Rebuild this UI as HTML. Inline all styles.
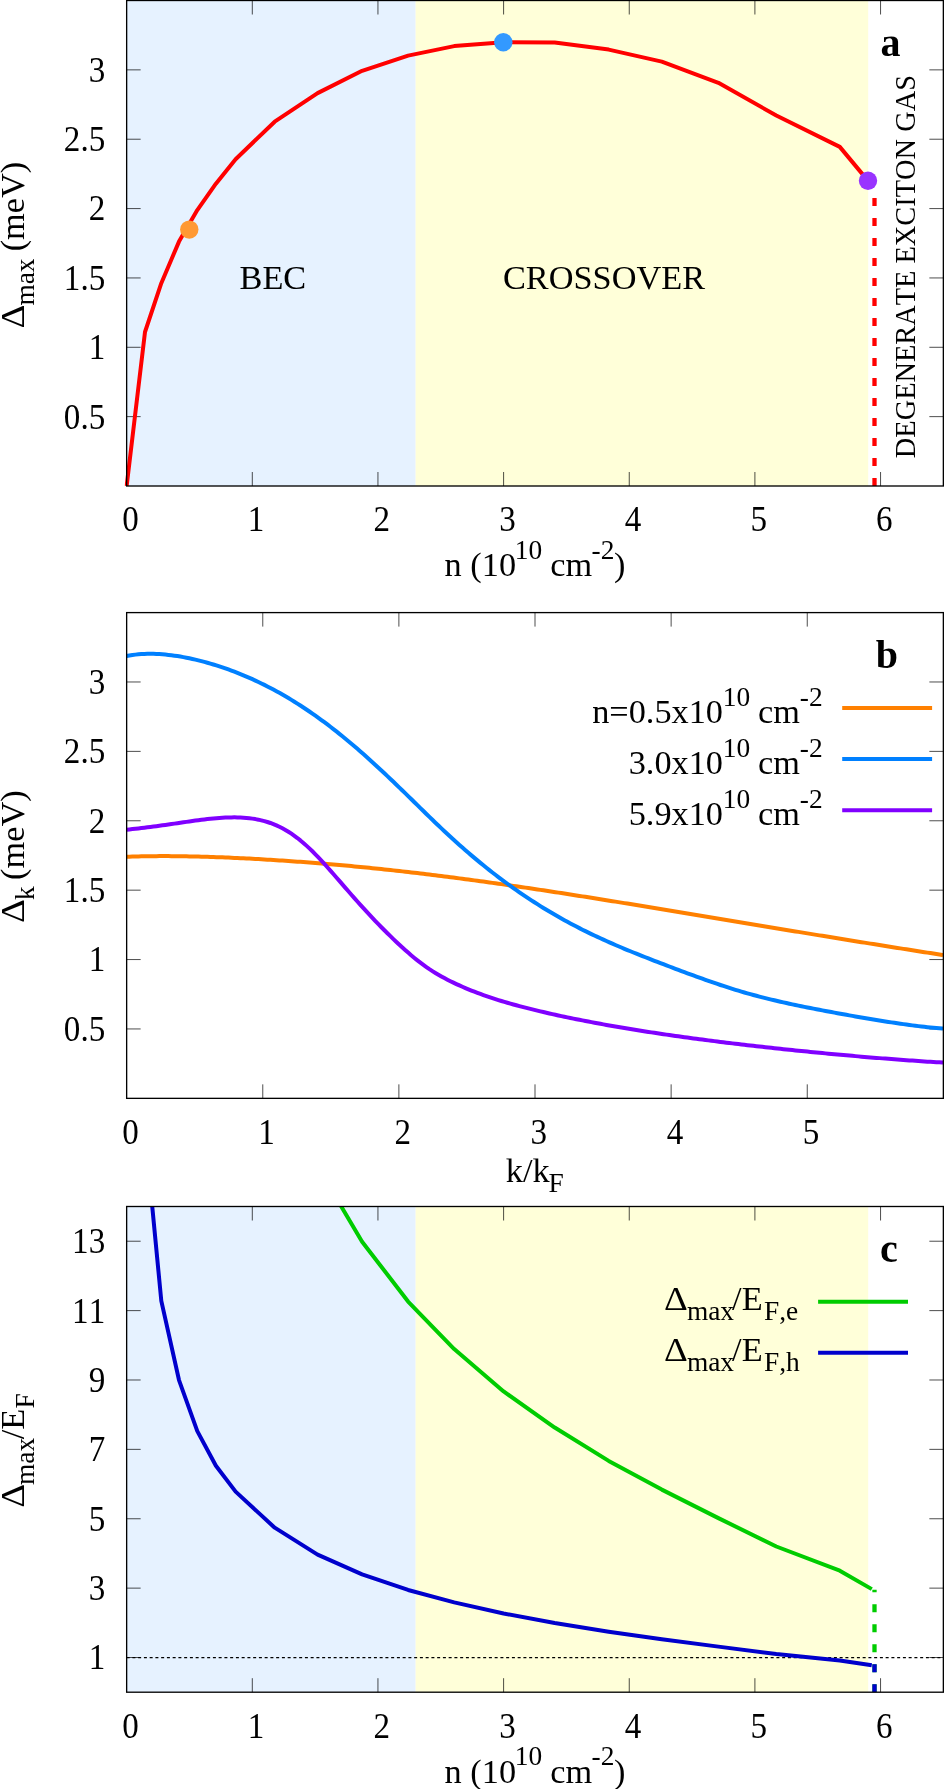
<!DOCTYPE html>
<html lang="en">
<head>
<meta charset="utf-8">
<title>Figure</title>
<style>
html,body{margin:0;padding:0;background:#fff;}
body{width:944px;height:1789px;overflow:hidden;}
svg{display:block;will-change:transform;}
text{font-family:"Liberation Serif", "DejaVu Serif", serif;font-kerning:none;}
</style>
</head>
<body>
<svg width="944" height="1789" viewBox="0 0 944 1789" font-family='"Liberation Serif", "DejaVu Serif", serif' fill="#000">
<rect width="944" height="1789" fill="#fff"/>
<defs>
<clipPath id="ca"><rect x="124.45" y="0.5" width="821.1" height="485.5"/></clipPath>
<clipPath id="cb"><rect x="124.45" y="612.6" width="821.1" height="485.75"/></clipPath>
<clipPath id="cc"><rect x="124.45" y="1206.5" width="821.1" height="485.7"/></clipPath>
</defs>
<rect x="126.65" y="0.5" width="289" height="485.5" fill="#e6f2ff"/>
<rect x="415.64" y="0.5" width="452.56" height="485.5" fill="#ffffd9"/>
<line x1="252.3" y1="486" x2="252.3" y2="472" stroke="#000" stroke-width="0.7" />
<line x1="252.3" y1="0.5" x2="252.3" y2="14.5" stroke="#000" stroke-width="0.7" />
<line x1="377.95" y1="486" x2="377.95" y2="472" stroke="#000" stroke-width="0.7" />
<line x1="377.95" y1="0.5" x2="377.95" y2="14.5" stroke="#000" stroke-width="0.7" />
<line x1="503.6" y1="486" x2="503.6" y2="472" stroke="#000" stroke-width="0.7" />
<line x1="503.6" y1="0.5" x2="503.6" y2="14.5" stroke="#000" stroke-width="0.7" />
<line x1="629.25" y1="486" x2="629.25" y2="472" stroke="#000" stroke-width="0.7" />
<line x1="629.25" y1="0.5" x2="629.25" y2="14.5" stroke="#000" stroke-width="0.7" />
<line x1="754.9" y1="486" x2="754.9" y2="472" stroke="#000" stroke-width="0.7" />
<line x1="754.9" y1="0.5" x2="754.9" y2="14.5" stroke="#000" stroke-width="0.7" />
<line x1="880.55" y1="486" x2="880.55" y2="472" stroke="#000" stroke-width="0.7" />
<line x1="880.55" y1="0.5" x2="880.55" y2="14.5" stroke="#000" stroke-width="0.7" />
<line x1="126.65" y1="416.64" x2="140.65" y2="416.64" stroke="#000" stroke-width="0.7" />
<line x1="943.35" y1="416.64" x2="929.35" y2="416.64" stroke="#000" stroke-width="0.7" />
<line x1="126.65" y1="347.29" x2="140.65" y2="347.29" stroke="#000" stroke-width="0.7" />
<line x1="943.35" y1="347.29" x2="929.35" y2="347.29" stroke="#000" stroke-width="0.7" />
<line x1="126.65" y1="277.94" x2="140.65" y2="277.94" stroke="#000" stroke-width="0.7" />
<line x1="943.35" y1="277.94" x2="929.35" y2="277.94" stroke="#000" stroke-width="0.7" />
<line x1="126.65" y1="208.58" x2="140.65" y2="208.58" stroke="#000" stroke-width="0.7" />
<line x1="943.35" y1="208.58" x2="929.35" y2="208.58" stroke="#000" stroke-width="0.7" />
<line x1="126.65" y1="139.22" x2="140.65" y2="139.22" stroke="#000" stroke-width="0.7" />
<line x1="943.35" y1="139.22" x2="929.35" y2="139.22" stroke="#000" stroke-width="0.7" />
<line x1="126.65" y1="69.87" x2="140.65" y2="69.87" stroke="#000" stroke-width="0.7" />
<line x1="943.35" y1="69.87" x2="929.35" y2="69.87" stroke="#000" stroke-width="0.7" />
<g clip-path="url(#ca)">
<line x1="874.5" y1="486" x2="874.5" y2="198" stroke="#ff0000" stroke-width="4.3" stroke-dasharray="8 12"/>
<polyline points="126.65,486 145,332 161.3,283.2 179,241.6 197.3,210.1 215.9,183.7 235.6,159.2 274.7,121.7 317.6,93.1 362.1,70.8 408.1,55.6 454.2,46.1 503.6,42.2 554.7,42.6 608.7,49.6 661.8,61.6 718.4,82.8 776.3,115.5 839.8,146.9 871.8,185.4" fill="none" stroke="#ff0000" stroke-width="4" stroke-linejoin="round" stroke-linecap="butt" />
</g>
<circle cx="189.3" cy="229.6" r="9.2" fill="#ff9933"/>
<circle cx="503.3" cy="42.2" r="9.2" fill="#3399ff"/>
<circle cx="868" cy="180.8" r="9.2" fill="#9933ff"/>
<text transform="translate(130.45 531.3) scale(0.965 1.060)" font-size="34.3" text-anchor="middle" font-weight="normal" >0</text>
<text transform="translate(256.1 531.3) scale(0.965 1.060)" font-size="34.3" text-anchor="middle" font-weight="normal" >1</text>
<text transform="translate(381.75 531.3) scale(0.965 1.060)" font-size="34.3" text-anchor="middle" font-weight="normal" >2</text>
<text transform="translate(507.4 531.3) scale(0.965 1.060)" font-size="34.3" text-anchor="middle" font-weight="normal" >3</text>
<text transform="translate(633.05 531.3) scale(0.965 1.060)" font-size="34.3" text-anchor="middle" font-weight="normal" >4</text>
<text transform="translate(758.7 531.3) scale(0.965 1.060)" font-size="34.3" text-anchor="middle" font-weight="normal" >5</text>
<text transform="translate(884.35 531.3) scale(0.965 1.060)" font-size="34.3" text-anchor="middle" font-weight="normal" >6</text>
<text transform="translate(105.2 428.54) scale(0.965 1.060)" font-size="34.3" text-anchor="end" font-weight="normal" >0.5</text>
<text transform="translate(105.2 359.19) scale(0.965 1.060)" font-size="34.3" text-anchor="end" font-weight="normal" >1</text>
<text transform="translate(105.2 289.83) scale(0.965 1.060)" font-size="34.3" text-anchor="end" font-weight="normal" >1.5</text>
<text transform="translate(105.2 220.48) scale(0.965 1.060)" font-size="34.3" text-anchor="end" font-weight="normal" >2</text>
<text transform="translate(105.2 151.12) scale(0.965 1.060)" font-size="34.3" text-anchor="end" font-weight="normal" >2.5</text>
<text transform="translate(105.2 81.77) scale(0.965 1.060)" font-size="34.3" text-anchor="end" font-weight="normal" >3</text>
<rect x="126.65" y="0.5" width="816.7" height="485.5" fill="none" stroke="#000" stroke-width="1.33"/>
<text x="272.9" y="289.2" font-size="34.3" text-anchor="middle" font-weight="normal" >BEC</text>
<text x="604" y="289.2" font-size="34.3" text-anchor="middle" font-weight="normal" >CROSSOVER</text>
<text x="0" y="0" font-size="28.4" text-anchor="start" font-weight="normal" transform="translate(915.1 458.2) rotate(-90) scale(1 1.06)">DEGENERATE EXCITON GAS</text>
<text x="880.4" y="56.3" font-size="40" text-anchor="start" font-weight="bold" >a</text>
<g transform="translate(24.2 326.9) rotate(-90)">
<text transform="translate(-1.5 0) scale(1.080 1.000)" font-size="34.3" text-anchor="start" font-weight="normal" >Δ</text>
<text x="21.3" y="10.2" font-size="27.4" text-anchor="start" font-weight="normal" >max</text>
<text x="75.6" y="0" font-size="34.3" text-anchor="start" font-weight="normal" >(meV)</text>
</g>
<g transform="translate(444.6 576.4)">
<text x="0" y="0" font-size="34.3" text-anchor="start" font-weight="normal" >n (10</text>
<text x="70.2" y="-17.2" font-size="27.4" text-anchor="start" font-weight="normal" >10</text>
<text x="105.73" y="0" font-size="34.3" text-anchor="start" font-weight="normal" >cm</text>
<text x="147" y="-17.2" font-size="27.4" text-anchor="start" font-weight="normal" >-2</text>
<text x="169.4" y="0" font-size="34.3" text-anchor="start" font-weight="normal" >)</text>
</g>
<line x1="262.77" y1="1098.35" x2="262.77" y2="1084.35" stroke="#000" stroke-width="0.7" />
<line x1="262.77" y1="612.6" x2="262.77" y2="626.6" stroke="#000" stroke-width="0.7" />
<line x1="398.89" y1="1098.35" x2="398.89" y2="1084.35" stroke="#000" stroke-width="0.7" />
<line x1="398.89" y1="612.6" x2="398.89" y2="626.6" stroke="#000" stroke-width="0.7" />
<line x1="535.01" y1="1098.35" x2="535.01" y2="1084.35" stroke="#000" stroke-width="0.7" />
<line x1="535.01" y1="612.6" x2="535.01" y2="626.6" stroke="#000" stroke-width="0.7" />
<line x1="671.13" y1="1098.35" x2="671.13" y2="1084.35" stroke="#000" stroke-width="0.7" />
<line x1="671.13" y1="612.6" x2="671.13" y2="626.6" stroke="#000" stroke-width="0.7" />
<line x1="807.25" y1="1098.35" x2="807.25" y2="1084.35" stroke="#000" stroke-width="0.7" />
<line x1="807.25" y1="612.6" x2="807.25" y2="626.6" stroke="#000" stroke-width="0.7" />
<line x1="126.65" y1="1028.95" x2="140.65" y2="1028.95" stroke="#000" stroke-width="0.7" />
<line x1="943.35" y1="1028.95" x2="929.35" y2="1028.95" stroke="#000" stroke-width="0.7" />
<line x1="126.65" y1="959.56" x2="140.65" y2="959.56" stroke="#000" stroke-width="0.7" />
<line x1="943.35" y1="959.56" x2="929.35" y2="959.56" stroke="#000" stroke-width="0.7" />
<line x1="126.65" y1="890.16" x2="140.65" y2="890.16" stroke="#000" stroke-width="0.7" />
<line x1="943.35" y1="890.16" x2="929.35" y2="890.16" stroke="#000" stroke-width="0.7" />
<line x1="126.65" y1="820.77" x2="140.65" y2="820.77" stroke="#000" stroke-width="0.7" />
<line x1="943.35" y1="820.77" x2="929.35" y2="820.77" stroke="#000" stroke-width="0.7" />
<line x1="126.65" y1="751.38" x2="140.65" y2="751.38" stroke="#000" stroke-width="0.7" />
<line x1="943.35" y1="751.38" x2="929.35" y2="751.38" stroke="#000" stroke-width="0.7" />
<line x1="126.65" y1="681.98" x2="140.65" y2="681.98" stroke="#000" stroke-width="0.7" />
<line x1="943.35" y1="681.98" x2="929.35" y2="681.98" stroke="#000" stroke-width="0.7" />
<g clip-path="url(#cb)">
<polyline points="126.4,856.75 129.4,856.64 132.4,856.55 135.4,856.46 138.4,856.39 141.4,856.32 144.4,856.27 147.4,856.22 150.4,856.18 153.4,856.15 156.4,856.13 159.4,856.11 162.4,856.11 165.4,856.11 168.4,856.12 171.4,856.14 174.4,856.16 177.4,856.19 180.4,856.23 183.4,856.27 186.4,856.32 189.4,856.38 192.4,856.44 195.4,856.51 198.4,856.58 201.4,856.66 204.4,856.75 207.4,856.84 210.4,856.94 213.4,857.04 216.4,857.15 219.4,857.26 222.4,857.37 225.4,857.49 228.4,857.62 231.4,857.75 234.4,857.89 237.4,858.03 240.4,858.17 243.4,858.32 246.4,858.47 249.4,858.62 252.4,858.78 255.4,858.95 258.4,859.12 261.4,859.29 264.4,859.46 267.4,859.64 270.4,859.83 273.4,860.01 276.4,860.2 279.4,860.4 282.4,860.59 285.4,860.79 288.4,861 291.4,861.21 294.4,861.42 297.4,861.63 300.4,861.85 303.4,862.07 306.4,862.3 309.4,862.53 312.4,862.76 315.4,863 318.4,863.24 321.4,863.48 324.4,863.73 327.4,863.98 330.4,864.23 333.4,864.49 336.4,864.75 339.4,865.02 342.4,865.29 345.4,865.56 348.4,865.83 351.4,866.11 354.4,866.39 357.4,866.68 360.4,866.97 363.4,867.26 366.4,867.56 369.4,867.86 372.4,868.16 375.4,868.47 378.4,868.78 381.4,869.09 384.4,869.41 387.4,869.73 390.4,870.05 393.4,870.38 396.4,870.71 399.4,871.04 402.4,871.38 405.4,871.72 408.4,872.06 411.4,872.41 414.4,872.76 417.4,873.11 420.4,873.47 423.4,873.83 426.4,874.19 429.4,874.55 432.4,874.92 435.4,875.29 438.4,875.67 441.4,876.04 444.4,876.42 447.4,876.81 450.4,877.19 453.4,877.58 456.4,877.97 459.4,878.36 462.4,878.76 465.4,879.16 468.4,879.56 471.4,879.96 474.4,880.37 477.4,880.78 480.4,881.19 483.4,881.6 486.4,882.02 489.4,882.44 492.4,882.86 495.4,883.28 498.4,883.71 501.4,884.14 504.4,884.57 507.4,885 510.4,885.43 513.4,885.87 516.4,886.31 519.4,886.75 522.4,887.19 525.4,887.63 528.4,888.08 531.4,888.52 534.4,888.97 537.4,889.42 540.4,889.88 543.4,890.33 546.4,890.79 549.4,891.24 552.4,891.7 555.4,892.16 558.4,892.62 561.4,893.09 564.4,893.55 567.4,894.02 570.4,894.49 573.4,894.96 576.4,895.43 579.4,895.9 582.4,896.37 585.4,896.84 588.4,897.32 591.4,897.8 594.4,898.27 597.4,898.75 600.4,899.23 603.4,899.71 606.4,900.19 609.4,900.68 612.4,901.16 615.4,901.64 618.4,902.13 621.4,902.61 624.4,903.1 627.4,903.59 630.4,904.08 633.4,904.57 636.4,905.06 639.4,905.55 642.4,906.04 645.4,906.53 648.4,907.02 651.4,907.52 654.4,908.01 657.4,908.5 660.4,909 663.4,909.49 666.4,909.99 669.4,910.48 672.4,910.98 675.4,911.48 678.4,911.97 681.4,912.47 684.4,912.97 687.4,913.47 690.4,913.97 693.4,914.46 696.4,914.96 699.4,915.46 702.4,915.96 705.4,916.46 708.4,916.96 711.4,917.46 714.4,917.96 717.4,918.46 720.4,918.96 723.4,919.46 726.4,919.96 729.4,920.46 732.4,920.95 735.4,921.45 738.4,921.95 741.4,922.45 744.4,922.95 747.4,923.45 750.4,923.95 753.4,924.45 756.4,924.95 759.4,925.45 762.4,925.94 765.4,926.44 768.4,926.94 771.4,927.44 774.4,927.94 777.4,928.43 780.4,928.93 783.4,929.42 786.4,929.92 789.4,930.42 792.4,930.91 795.4,931.41 798.4,931.9 801.4,932.39 804.4,932.89 807.4,933.38 810.4,933.87 813.4,934.37 816.4,934.86 819.4,935.35 822.4,935.84 825.4,936.33 828.4,936.82 831.4,937.31 834.4,937.8 837.4,938.29 840.4,938.77 843.4,939.26 846.4,939.75 849.4,940.23 852.4,940.72 855.4,941.2 858.4,941.69 861.4,942.17 864.4,942.65 867.4,943.13 870.4,943.61 873.4,944.09 876.4,944.57 879.4,945.05 882.4,945.53 885.4,946.01 888.4,946.49 891.4,946.96 894.4,947.44 897.4,947.91 900.4,948.39 903.4,948.86 906.4,949.34 909.4,949.81 912.4,950.28 915.4,950.75 918.4,951.22 921.4,951.69 924.4,952.16 927.4,952.62 930.4,953.09 933.4,953.56 936.4,954.02 939.4,954.49 942.4,954.95 943,955.04" fill="none" stroke="#ff8000" stroke-width="4" stroke-linejoin="round" stroke-linecap="butt" />
<polyline points="126.4,656 129.4,655.46 132.4,655 135.4,654.62 138.4,654.32 141.4,654.09 144.4,653.94 147.4,653.85 150.4,653.83 153.4,653.86 156.4,653.96 159.4,654.12 162.4,654.32 165.4,654.58 168.4,654.89 171.4,655.25 174.4,655.66 177.4,656.1 180.4,656.59 183.4,657.13 186.4,657.7 189.4,658.31 192.4,658.96 195.4,659.64 198.4,660.36 201.4,661.12 204.4,661.91 207.4,662.73 210.4,663.59 213.4,664.48 216.4,665.41 219.4,666.37 222.4,667.36 225.4,668.39 228.4,669.45 231.4,670.55 234.4,671.68 237.4,672.84 240.4,674.04 243.4,675.28 246.4,676.55 249.4,677.85 252.4,679.19 255.4,680.57 258.4,681.98 261.4,683.43 264.4,684.91 267.4,686.43 270.4,687.98 273.4,689.58 276.4,691.2 279.4,692.87 282.4,694.57 285.4,696.3 288.4,698.07 291.4,699.88 294.4,701.73 297.4,703.61 300.4,705.53 303.4,707.49 306.4,709.49 309.4,711.52 312.4,713.59 315.4,715.69 318.4,717.83 321.4,720.01 324.4,722.22 327.4,724.47 330.4,726.76 333.4,729.08 336.4,731.44 339.4,733.82 342.4,736.25 345.4,738.7 348.4,741.19 351.4,743.71 354.4,746.26 357.4,748.84 360.4,751.45 363.4,754.09 366.4,756.75 369.4,759.45 372.4,762.16 375.4,764.91 378.4,767.67 381.4,770.46 384.4,773.27 387.4,776.1 390.4,778.95 393.4,781.82 396.4,784.7 399.4,787.6 402.4,790.51 405.4,793.43 408.4,796.36 411.4,799.29 414.4,802.23 417.4,805.17 420.4,808.11 423.4,811.05 426.4,813.98 429.4,816.9 432.4,819.8 435.4,822.69 438.4,825.56 441.4,828.41 444.4,831.23 447.4,834.03 450.4,836.8 453.4,839.54 456.4,842.25 459.4,844.93 462.4,847.58 465.4,850.21 468.4,852.8 471.4,855.36 474.4,857.89 477.4,860.39 480.4,862.86 483.4,865.31 486.4,867.72 489.4,870.1 492.4,872.45 495.4,874.77 498.4,877.06 501.4,879.32 504.4,881.56 507.4,883.76 510.4,885.93 513.4,888.08 516.4,890.19 519.4,892.28 522.4,894.33 525.4,896.36 528.4,898.36 531.4,900.33 534.4,902.27 537.4,904.18 540.4,906.07 543.4,907.93 546.4,909.76 549.4,911.56 552.4,913.33 555.4,915.08 558.4,916.8 561.4,918.5 564.4,920.17 567.4,921.81 570.4,923.43 573.4,925.02 576.4,926.59 579.4,928.14 582.4,929.66 585.4,931.15 588.4,932.63 591.4,934.08 594.4,935.51 597.4,936.92 600.4,938.31 603.4,939.68 606.4,941.03 609.4,942.37 612.4,943.68 615.4,944.98 618.4,946.27 621.4,947.53 624.4,948.79 627.4,950.03 630.4,951.26 633.4,952.48 636.4,953.68 639.4,954.88 642.4,956.07 645.4,957.25 648.4,958.43 651.4,959.6 654.4,960.76 657.4,961.92 660.4,963.07 663.4,964.22 666.4,965.36 669.4,966.5 672.4,967.64 675.4,968.77 678.4,969.9 681.4,971.02 684.4,972.14 687.4,973.26 690.4,974.36 693.4,975.47 696.4,976.56 699.4,977.65 702.4,978.73 705.4,979.8 708.4,980.86 711.4,981.91 714.4,982.94 717.4,983.97 720.4,984.98 723.4,985.97 726.4,986.95 729.4,987.91 732.4,988.86 735.4,989.79 738.4,990.7 741.4,991.59 744.4,992.47 747.4,993.33 750.4,994.17 753.4,995 756.4,995.8 759.4,996.59 762.4,997.37 765.4,998.13 768.4,998.87 771.4,999.6 774.4,1000.31 777.4,1001.01 780.4,1001.7 783.4,1002.38 786.4,1003.04 789.4,1003.7 792.4,1004.34 795.4,1004.98 798.4,1005.61 801.4,1006.23 804.4,1006.84 807.4,1007.45 810.4,1008.05 813.4,1008.64 816.4,1009.22 819.4,1009.81 822.4,1010.38 825.4,1010.95 828.4,1011.52 831.4,1012.08 834.4,1012.64 837.4,1013.19 840.4,1013.74 843.4,1014.28 846.4,1014.82 849.4,1015.36 852.4,1015.89 855.4,1016.42 858.4,1016.94 861.4,1017.46 864.4,1017.98 867.4,1018.49 870.4,1018.99 873.4,1019.49 876.4,1019.99 879.4,1020.48 882.4,1020.96 885.4,1021.44 888.4,1021.91 891.4,1022.37 894.4,1022.82 897.4,1023.27 900.4,1023.71 903.4,1024.13 906.4,1024.55 909.4,1024.96 912.4,1025.36 915.4,1025.74 918.4,1026.11 921.4,1026.47 924.4,1026.81 927.4,1027.14 930.4,1027.45 933.4,1027.75 936.4,1028.02 939.4,1028.28 942.4,1028.52 943,1028.56" fill="none" stroke="#0080ff" stroke-width="4" stroke-linejoin="round" stroke-linecap="butt" />
<polyline points="126.4,829.75 129.4,829.43 132.4,829.1 135.4,828.77 138.4,828.43 141.4,828.07 144.4,827.71 147.4,827.34 150.4,826.96 153.4,826.57 156.4,826.17 159.4,825.76 162.4,825.34 165.4,824.92 168.4,824.49 171.4,824.06 174.4,823.62 177.4,823.18 180.4,822.74 183.4,822.31 186.4,821.87 189.4,821.44 192.4,821.02 195.4,820.6 198.4,820.2 201.4,819.81 204.4,819.44 207.4,819.08 210.4,818.75 213.4,818.45 216.4,818.18 219.4,817.94 222.4,817.73 225.4,817.57 228.4,817.45 231.4,817.38 234.4,817.36 237.4,817.4 240.4,817.5 243.4,817.67 246.4,817.9 249.4,818.22 252.4,818.61 255.4,819.09 258.4,819.67 261.4,820.34 264.4,821.11 267.4,821.99 270.4,822.99 273.4,824.11 276.4,825.36 279.4,826.74 282.4,828.26 285.4,829.92 288.4,831.73 291.4,833.68 294.4,835.79 297.4,838.03 300.4,840.43 303.4,842.95 306.4,845.62 309.4,848.41 312.4,851.31 315.4,854.33 318.4,857.44 321.4,860.64 324.4,863.91 327.4,867.24 330.4,870.61 333.4,874.03 336.4,877.47 339.4,880.92 342.4,884.38 345.4,887.84 348.4,891.29 351.4,894.73 354.4,898.14 357.4,901.52 360.4,904.88 363.4,908.2 366.4,911.47 369.4,914.71 372.4,917.91 375.4,921.06 378.4,924.17 381.4,927.24 384.4,930.26 387.4,933.25 390.4,936.19 393.4,939.1 396.4,941.96 399.4,944.77 402.4,947.53 405.4,950.23 408.4,952.87 411.4,955.43 414.4,957.93 417.4,960.33 420.4,962.66 423.4,964.89 426.4,967.04 429.4,969.1 432.4,971.06 435.4,972.94 438.4,974.73 441.4,976.45 444.4,978.09 447.4,979.67 450.4,981.18 453.4,982.65 456.4,984.07 459.4,985.44 462.4,986.77 465.4,988.06 468.4,989.31 471.4,990.53 474.4,991.71 477.4,992.85 480.4,993.97 483.4,995.05 486.4,996.1 489.4,997.13 492.4,998.13 495.4,999.1 498.4,1000.05 501.4,1000.97 504.4,1001.88 507.4,1002.76 510.4,1003.62 513.4,1004.46 516.4,1005.29 519.4,1006.1 522.4,1006.89 525.4,1007.67 528.4,1008.43 531.4,1009.18 534.4,1009.92 537.4,1010.65 540.4,1011.36 543.4,1012.06 546.4,1012.76 549.4,1013.44 552.4,1014.11 555.4,1014.77 558.4,1015.43 561.4,1016.08 564.4,1016.72 567.4,1017.35 570.4,1017.97 573.4,1018.59 576.4,1019.2 579.4,1019.8 582.4,1020.39 585.4,1020.98 588.4,1021.56 591.4,1022.13 594.4,1022.7 597.4,1023.26 600.4,1023.82 603.4,1024.36 606.4,1024.91 609.4,1025.44 612.4,1025.97 615.4,1026.5 618.4,1027.02 621.4,1027.53 624.4,1028.04 627.4,1028.54 630.4,1029.03 633.4,1029.53 636.4,1030.01 639.4,1030.49 642.4,1030.97 645.4,1031.44 648.4,1031.91 651.4,1032.37 654.4,1032.83 657.4,1033.28 660.4,1033.73 663.4,1034.18 666.4,1034.62 669.4,1035.05 672.4,1035.48 675.4,1035.91 678.4,1036.34 681.4,1036.76 684.4,1037.17 687.4,1037.58 690.4,1037.99 693.4,1038.4 696.4,1038.8 699.4,1039.2 702.4,1039.59 705.4,1039.99 708.4,1040.37 711.4,1040.76 714.4,1041.14 717.4,1041.52 720.4,1041.89 723.4,1042.27 726.4,1042.64 729.4,1043 732.4,1043.37 735.4,1043.73 738.4,1044.09 741.4,1044.44 744.4,1044.79 747.4,1045.14 750.4,1045.49 753.4,1045.84 756.4,1046.18 759.4,1046.52 762.4,1046.85 765.4,1047.19 768.4,1047.52 771.4,1047.85 774.4,1048.18 777.4,1048.5 780.4,1048.82 783.4,1049.14 786.4,1049.46 789.4,1049.77 792.4,1050.09 795.4,1050.4 798.4,1050.7 801.4,1051.01 804.4,1051.31 807.4,1051.61 810.4,1051.91 813.4,1052.21 816.4,1052.5 819.4,1052.8 822.4,1053.09 825.4,1053.37 828.4,1053.66 831.4,1053.94 834.4,1054.22 837.4,1054.5 840.4,1054.77 843.4,1055.05 846.4,1055.32 849.4,1055.59 852.4,1055.85 855.4,1056.12 858.4,1056.38 861.4,1056.64 864.4,1056.89 867.4,1057.15 870.4,1057.4 873.4,1057.64 876.4,1057.89 879.4,1058.13 882.4,1058.37 885.4,1058.61 888.4,1058.85 891.4,1059.08 894.4,1059.31 897.4,1059.53 900.4,1059.76 903.4,1059.98 906.4,1060.2 909.4,1060.41 912.4,1060.62 915.4,1060.83 918.4,1061.03 921.4,1061.24 924.4,1061.43 927.4,1061.63 930.4,1061.82 933.4,1062.01 936.4,1062.19 939.4,1062.37 942.4,1062.55 943,1062.58" fill="none" stroke="#8000ff" stroke-width="4" stroke-linejoin="round" stroke-linecap="butt" />
</g>
<text transform="translate(130.45 1143.65) scale(0.965 1.060)" font-size="34.3" text-anchor="middle" font-weight="normal" >0</text>
<text transform="translate(266.57 1143.65) scale(0.965 1.060)" font-size="34.3" text-anchor="middle" font-weight="normal" >1</text>
<text transform="translate(402.69 1143.65) scale(0.965 1.060)" font-size="34.3" text-anchor="middle" font-weight="normal" >2</text>
<text transform="translate(538.81 1143.65) scale(0.965 1.060)" font-size="34.3" text-anchor="middle" font-weight="normal" >3</text>
<text transform="translate(674.93 1143.65) scale(0.965 1.060)" font-size="34.3" text-anchor="middle" font-weight="normal" >4</text>
<text transform="translate(811.05 1143.65) scale(0.965 1.060)" font-size="34.3" text-anchor="middle" font-weight="normal" >5</text>
<text transform="translate(105.2 1040.86) scale(0.965 1.060)" font-size="34.3" text-anchor="end" font-weight="normal" >0.5</text>
<text transform="translate(105.2 971.46) scale(0.965 1.060)" font-size="34.3" text-anchor="end" font-weight="normal" >1</text>
<text transform="translate(105.2 902.06) scale(0.965 1.060)" font-size="34.3" text-anchor="end" font-weight="normal" >1.5</text>
<text transform="translate(105.2 832.67) scale(0.965 1.060)" font-size="34.3" text-anchor="end" font-weight="normal" >2</text>
<text transform="translate(105.2 763.27) scale(0.965 1.060)" font-size="34.3" text-anchor="end" font-weight="normal" >2.5</text>
<text transform="translate(105.2 693.88) scale(0.965 1.060)" font-size="34.3" text-anchor="end" font-weight="normal" >3</text>
<rect x="126.65" y="612.6" width="816.7" height="485.75" fill="none" stroke="#000" stroke-width="1.33"/>
<text x="875.7" y="668" font-size="40" text-anchor="start" font-weight="bold" >b</text>
<line x1="842.2" y1="708" x2="932.1" y2="708" stroke="#ff8000" stroke-width="4" />
<g transform="translate(822.2 723.1)">
<text x="-22.4" y="-17.2" font-size="27.4" text-anchor="start" font-weight="normal" >-2</text>
<text x="-22.4" y="0" font-size="34.3" text-anchor="end" font-weight="normal" >cm</text>
<text x="-72" y="-17.2" font-size="27.4" text-anchor="end" font-weight="normal" >10</text>
<text x="-99.2" y="0" font-size="34.3" text-anchor="end" font-weight="normal" >n=0.5x10</text>
</g>
<line x1="842.2" y1="759.1" x2="932.1" y2="759.1" stroke="#0080ff" stroke-width="4" />
<g transform="translate(822.2 774.2)">
<text x="-22.4" y="-17.2" font-size="27.4" text-anchor="start" font-weight="normal" >-2</text>
<text x="-22.4" y="0" font-size="34.3" text-anchor="end" font-weight="normal" >cm</text>
<text x="-72" y="-17.2" font-size="27.4" text-anchor="end" font-weight="normal" >10</text>
<text x="-99.2" y="0" font-size="34.3" text-anchor="end" font-weight="normal" >3.0x10</text>
</g>
<line x1="842.2" y1="810.2" x2="932.1" y2="810.2" stroke="#8000ff" stroke-width="4" />
<g transform="translate(822.2 825.3)">
<text x="-22.4" y="-17.2" font-size="27.4" text-anchor="start" font-weight="normal" >-2</text>
<text x="-22.4" y="0" font-size="34.3" text-anchor="end" font-weight="normal" >cm</text>
<text x="-72" y="-17.2" font-size="27.4" text-anchor="end" font-weight="normal" >10</text>
<text x="-99.2" y="0" font-size="34.3" text-anchor="end" font-weight="normal" >5.9x10</text>
</g>
<g transform="translate(24.2 921.4) rotate(-90)">
<text transform="translate(-1.5 0) scale(1.080 1.000)" font-size="34.3" text-anchor="start" font-weight="normal" >Δ</text>
<text x="21.3" y="10.2" font-size="27.4" text-anchor="start" font-weight="normal" >k</text>
<text x="41.5" y="0" font-size="34.3" text-anchor="start" font-weight="normal" >(meV)</text>
</g>
<text x="505.8" y="1181.6" font-size="34.3" text-anchor="start" font-weight="normal" >k/k</text>
<text x="548.4" y="1191.5" font-size="27.4" text-anchor="start" font-weight="normal" >F</text>
<rect x="126.65" y="1206.5" width="289" height="485.7" fill="#e6f2ff"/>
<rect x="415.64" y="1206.5" width="452.56" height="485.7" fill="#ffffd9"/>
<line x1="252.3" y1="1692.2" x2="252.3" y2="1678.2" stroke="#000" stroke-width="0.7" />
<line x1="252.3" y1="1206.5" x2="252.3" y2="1220.5" stroke="#000" stroke-width="0.7" />
<line x1="377.95" y1="1692.2" x2="377.95" y2="1678.2" stroke="#000" stroke-width="0.7" />
<line x1="377.95" y1="1206.5" x2="377.95" y2="1220.5" stroke="#000" stroke-width="0.7" />
<line x1="503.6" y1="1692.2" x2="503.6" y2="1678.2" stroke="#000" stroke-width="0.7" />
<line x1="503.6" y1="1206.5" x2="503.6" y2="1220.5" stroke="#000" stroke-width="0.7" />
<line x1="629.25" y1="1692.2" x2="629.25" y2="1678.2" stroke="#000" stroke-width="0.7" />
<line x1="629.25" y1="1206.5" x2="629.25" y2="1220.5" stroke="#000" stroke-width="0.7" />
<line x1="754.9" y1="1692.2" x2="754.9" y2="1678.2" stroke="#000" stroke-width="0.7" />
<line x1="754.9" y1="1206.5" x2="754.9" y2="1220.5" stroke="#000" stroke-width="0.7" />
<line x1="880.55" y1="1692.2" x2="880.55" y2="1678.2" stroke="#000" stroke-width="0.7" />
<line x1="880.55" y1="1206.5" x2="880.55" y2="1220.5" stroke="#000" stroke-width="0.7" />
<line x1="126.65" y1="1657.51" x2="140.65" y2="1657.51" stroke="#000" stroke-width="0.7" />
<line x1="943.35" y1="1657.51" x2="929.35" y2="1657.51" stroke="#000" stroke-width="0.7" />
<line x1="126.65" y1="1588.13" x2="140.65" y2="1588.13" stroke="#000" stroke-width="0.7" />
<line x1="943.35" y1="1588.13" x2="929.35" y2="1588.13" stroke="#000" stroke-width="0.7" />
<line x1="126.65" y1="1518.75" x2="140.65" y2="1518.75" stroke="#000" stroke-width="0.7" />
<line x1="943.35" y1="1518.75" x2="929.35" y2="1518.75" stroke="#000" stroke-width="0.7" />
<line x1="126.65" y1="1449.37" x2="140.65" y2="1449.37" stroke="#000" stroke-width="0.7" />
<line x1="943.35" y1="1449.37" x2="929.35" y2="1449.37" stroke="#000" stroke-width="0.7" />
<line x1="126.65" y1="1379.99" x2="140.65" y2="1379.99" stroke="#000" stroke-width="0.7" />
<line x1="943.35" y1="1379.99" x2="929.35" y2="1379.99" stroke="#000" stroke-width="0.7" />
<line x1="126.65" y1="1310.61" x2="140.65" y2="1310.61" stroke="#000" stroke-width="0.7" />
<line x1="943.35" y1="1310.61" x2="929.35" y2="1310.61" stroke="#000" stroke-width="0.7" />
<line x1="126.65" y1="1241.23" x2="140.65" y2="1241.23" stroke="#000" stroke-width="0.7" />
<line x1="943.35" y1="1241.23" x2="929.35" y2="1241.23" stroke="#000" stroke-width="0.7" />
<g clip-path="url(#cc)">
<line x1="126.65" y1="1657.51" x2="943.35" y2="1657.51" stroke="#000" stroke-width="1.25" stroke-dasharray="3 2.75"/>
<line x1="874.5" y1="1692.2" x2="874.5" y2="1589.74" stroke="#00cc00" stroke-width="4.3" stroke-dasharray="8 12"/>
<line x1="874.5" y1="1692.2" x2="874.5" y2="1664.23" stroke="#0000cc" stroke-width="4.3" stroke-dasharray="8 12"/>
<polyline points="145,-451.87 161.3,196.93 179,499.48 197.3,694.51 215.9,826.87 235.6,925.88 274.7,1063.56 317.6,1166.53 362.1,1241.68 408.1,1301.52 454.2,1349.09 503.6,1391.41 554.7,1427.56 608.7,1460.92 661.8,1489.59 718.4,1518.13 776.3,1546.5 839.8,1570.72 871.8,1589.14" fill="none" stroke="#00cc00" stroke-width="4" stroke-linejoin="round" stroke-linecap="butt" />
<polyline points="145,1131.09 161.3,1300.89 179,1380.06 197.3,1431.1 215.9,1465.74 235.6,1491.65 274.7,1527.68 317.6,1554.63 362.1,1574.3 408.1,1589.96 454.2,1602.41 503.6,1613.48 554.7,1622.94 608.7,1631.67 661.8,1639.18 718.4,1646.64 776.3,1654.07 839.8,1660.41 871.8,1665.23" fill="none" stroke="#0000cc" stroke-width="4" stroke-linejoin="round" stroke-linecap="butt" />
</g>
<text transform="translate(130.45 1737.5) scale(0.965 1.060)" font-size="34.3" text-anchor="middle" font-weight="normal" >0</text>
<text transform="translate(256.1 1737.5) scale(0.965 1.060)" font-size="34.3" text-anchor="middle" font-weight="normal" >1</text>
<text transform="translate(381.75 1737.5) scale(0.965 1.060)" font-size="34.3" text-anchor="middle" font-weight="normal" >2</text>
<text transform="translate(507.4 1737.5) scale(0.965 1.060)" font-size="34.3" text-anchor="middle" font-weight="normal" >3</text>
<text transform="translate(633.05 1737.5) scale(0.965 1.060)" font-size="34.3" text-anchor="middle" font-weight="normal" >4</text>
<text transform="translate(758.7 1737.5) scale(0.965 1.060)" font-size="34.3" text-anchor="middle" font-weight="normal" >5</text>
<text transform="translate(884.35 1737.5) scale(0.965 1.060)" font-size="34.3" text-anchor="middle" font-weight="normal" >6</text>
<text transform="translate(105.2 1669.41) scale(0.965 1.060)" font-size="34.3" text-anchor="end" font-weight="normal" >1</text>
<text transform="translate(105.2 1600.03) scale(0.965 1.060)" font-size="34.3" text-anchor="end" font-weight="normal" >3</text>
<text transform="translate(105.2 1530.65) scale(0.965 1.060)" font-size="34.3" text-anchor="end" font-weight="normal" >5</text>
<text transform="translate(105.2 1461.27) scale(0.965 1.060)" font-size="34.3" text-anchor="end" font-weight="normal" >7</text>
<text transform="translate(105.2 1391.89) scale(0.965 1.060)" font-size="34.3" text-anchor="end" font-weight="normal" >9</text>
<text transform="translate(105.2 1322.51) scale(0.965 1.060)" font-size="34.3" text-anchor="end" font-weight="normal" >11</text>
<text transform="translate(105.2 1253.13) scale(0.965 1.060)" font-size="34.3" text-anchor="end" font-weight="normal" >13</text>
<rect x="126.65" y="1206.5" width="816.7" height="485.7" fill="none" stroke="#000" stroke-width="1.33"/>
<text x="879.9" y="1262" font-size="40" text-anchor="start" font-weight="bold" >c</text>
<line x1="818.1" y1="1301.8" x2="908" y2="1301.8" stroke="#00cc00" stroke-width="4" />
<g transform="translate(665.6 1310.2)">
<text transform="translate(-1.5 0) scale(1.080 1.000)" font-size="34.3" text-anchor="start" font-weight="normal" >Δ</text>
<text x="21.3" y="10.2" font-size="27.4" text-anchor="start" font-weight="normal" >max</text>
<text x="66.5" y="0" font-size="34.3" text-anchor="start" font-weight="normal" >/E</text>
<text x="98.3" y="10.2" font-size="27.4" text-anchor="start" font-weight="normal" >F,e</text>
</g>
<line x1="818.1" y1="1352.7" x2="908" y2="1352.7" stroke="#0000cc" stroke-width="4" />
<g transform="translate(665.6 1361.1)">
<text transform="translate(-1.5 0) scale(1.080 1.000)" font-size="34.3" text-anchor="start" font-weight="normal" >Δ</text>
<text x="21.3" y="10.2" font-size="27.4" text-anchor="start" font-weight="normal" >max</text>
<text x="66.5" y="0" font-size="34.3" text-anchor="start" font-weight="normal" >/E</text>
<text x="98.3" y="10.2" font-size="27.4" text-anchor="start" font-weight="normal" >F,h</text>
</g>
<g transform="translate(24.2 1506.3) rotate(-90)">
<text transform="translate(-1.5 0) scale(1.080 1.000)" font-size="34.3" text-anchor="start" font-weight="normal" >Δ</text>
<text x="21.3" y="10.2" font-size="27.4" text-anchor="start" font-weight="normal" >max</text>
<text x="67" y="0" font-size="34.3" text-anchor="start" font-weight="normal" >/E</text>
<text x="97.8" y="10.2" font-size="27.4" text-anchor="start" font-weight="normal" >F</text>
</g>
<g transform="translate(444.6 1782.6)">
<text x="0" y="0" font-size="34.3" text-anchor="start" font-weight="normal" >n (10</text>
<text x="70.2" y="-17.2" font-size="27.4" text-anchor="start" font-weight="normal" >10</text>
<text x="105.73" y="0" font-size="34.3" text-anchor="start" font-weight="normal" >cm</text>
<text x="147" y="-17.2" font-size="27.4" text-anchor="start" font-weight="normal" >-2</text>
<text x="169.4" y="0" font-size="34.3" text-anchor="start" font-weight="normal" >)</text>
</g>
</svg>
</body>
</html>
